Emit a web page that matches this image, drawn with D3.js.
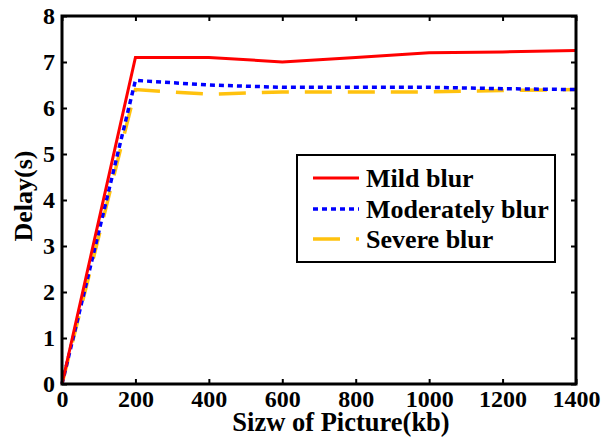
<!DOCTYPE html>
<html>
<head>
<meta charset="utf-8">
<script src="https://cdn.jsdelivr.net/npm/d3@7"></script>
<style>
    body { margin: 0; background: #fff; }
</style>
</head>
<body>
<div id="chart"></div>
<script>
// Data
const sizes = [0, 200, 400, 600, 800, 1000, 1200, 1400];
const mild = [0, 7.1, 7.1, 7.0, 7.1, 7.2, 7.22, 7.25];
const moderate = [0, 6.6, 6.5, 6.45, 6.45, 6.45, 6.42, 6.4];
const severe = [0, 6.4, 6.3, 6.35, 6.35, 6.35, 6.38, 6.4];
const seriesNames = ["Mild blur", "Moderately blur", "Severe blur"];
const xTicks = [0, 200, 400, 600, 800, 1000, 1200, 1400];
const yTicks = [0, 1, 2, 3, 4, 5, 6, 7, 8];

const FONT = "'Liberation Serif', 'Times New Roman', serif";

const W = 602, H = 438;
const margin = {left: 62, top: 16, right: 26, bottom: 54};
const width = W - margin.left - margin.right;
const height = H - margin.top - margin.bottom;

// drawn bottom to top, red last so it sits on top
const series = [
    {name: seriesNames[2], values: severe, color: "#FFC20E", dash: "27,16", w: 3.5},
    {name: seriesNames[1], values: moderate, color: "#0000FF", dash: "5,4", w: 3.5},
    {name: seriesNames[0], values: mild, color: "#FF0000", dash: null, w: 3}
];

let svg = d3.select("#chart")
    .append("svg")
    .attr("width", W)
    .attr("height", H)
    .style("font-family", FONT)
    .style("font-weight", "bold");

let chart = svg.append("g")
    .attr("transform", "translate(" + margin.left + ", " + margin.top + ")");

let x = d3.scaleLinear().domain([0, 1400]).range([0, width]);
let y = d3.scaleLinear().domain([0, 8]).range([height, 0]);

const styleAxis = function(g) {
    g.attr("font-family", null);
    g.select(".domain").remove();
    g.selectAll(".tick line").attr("stroke", "#000").attr("stroke-width", 2);
    g.selectAll(".tick text")
        .attr("fill", "#000")
        .style("font-family", FONT)
        .style("font-weight", "bold")
        .style("font-size", "24px");
};

chart.append("g")
    .attr("transform", "translate(0, " + height + ")")
    .call(d3.axisBottom(x).tickValues(xTicks).tickFormat(d3.format("d")).tickSize(-5).tickPadding(6))
    .call(styleAxis);

chart.append("g")
    .call(d3.axisLeft(y).tickValues(yTicks).tickFormat(d3.format("d")).tickSize(-5).tickPadding(7))
    .call(styleAxis);

// mirrored ticks on top and right
chart.append("g")
    .call(d3.axisTop(x).tickValues(xTicks).tickSize(-5).tickFormat(""))
    .call(styleAxis);

chart.append("g")
    .attr("transform", "translate(" + width + ", 0)")
    .call(d3.axisRight(y).tickValues(yTicks).tickSize(-5).tickFormat(""))
    .call(styleAxis);

let line = d3.line()
    .x(function(d, i) { return x(sizes[i]); })
    .y(function(d) { return y(d); });

series.forEach(function(s) {
    chart.append("path")
        .datum(s.values)
        .attr("fill", "none")
        .attr("stroke", s.color)
        .attr("stroke-width", s.w)
        .attr("stroke-dasharray", s.dash)
        .attr("d", line);
});

// frame
chart.append("rect")
    .attr("x", 0)
    .attr("y", 0)
    .attr("width", width)
    .attr("height", height)
    .attr("fill", "none")
    .attr("stroke", "#000")
    .attr("stroke-width", 3);

// axis titles
svg.append("text")
    .attr("x", 341)
    .attr("y", 431)
    .attr("text-anchor", "middle")
    .style("font-size", "26.5px")
    .text("Sizw of Picture(kb)");

svg.append("text")
    .attr("transform", "translate(32, 196) rotate(-90)")
    .attr("text-anchor", "middle")
    .style("font-size", "26px")
    .text("Delay(s)");

// legend
let legend = svg.append("g");
legend.append("rect")
    .attr("x", 297)
    .attr("y", 155)
    .attr("width", 258)
    .attr("height", 107)
    .attr("fill", "#fff")
    .attr("stroke", "#000")
    .attr("stroke-width", 2);

const legendRows = [178, 209, 239];
series.slice().reverse().forEach(function(s, i) {
    legend.append("line")
        .attr("x1", 313)
        .attr("x2", 359)
        .attr("y1", legendRows[i])
        .attr("y2", legendRows[i])
        .attr("stroke", s.color)
        .attr("stroke-width", s.w)
        .attr("stroke-dasharray", s.dash);
    legend.append("text")
        .attr("x", 366)
        .attr("y", legendRows[i] + 8.5)
        .style("font-size", "26px")
        .text(s.name);
});
</script>
</body>
</html>
